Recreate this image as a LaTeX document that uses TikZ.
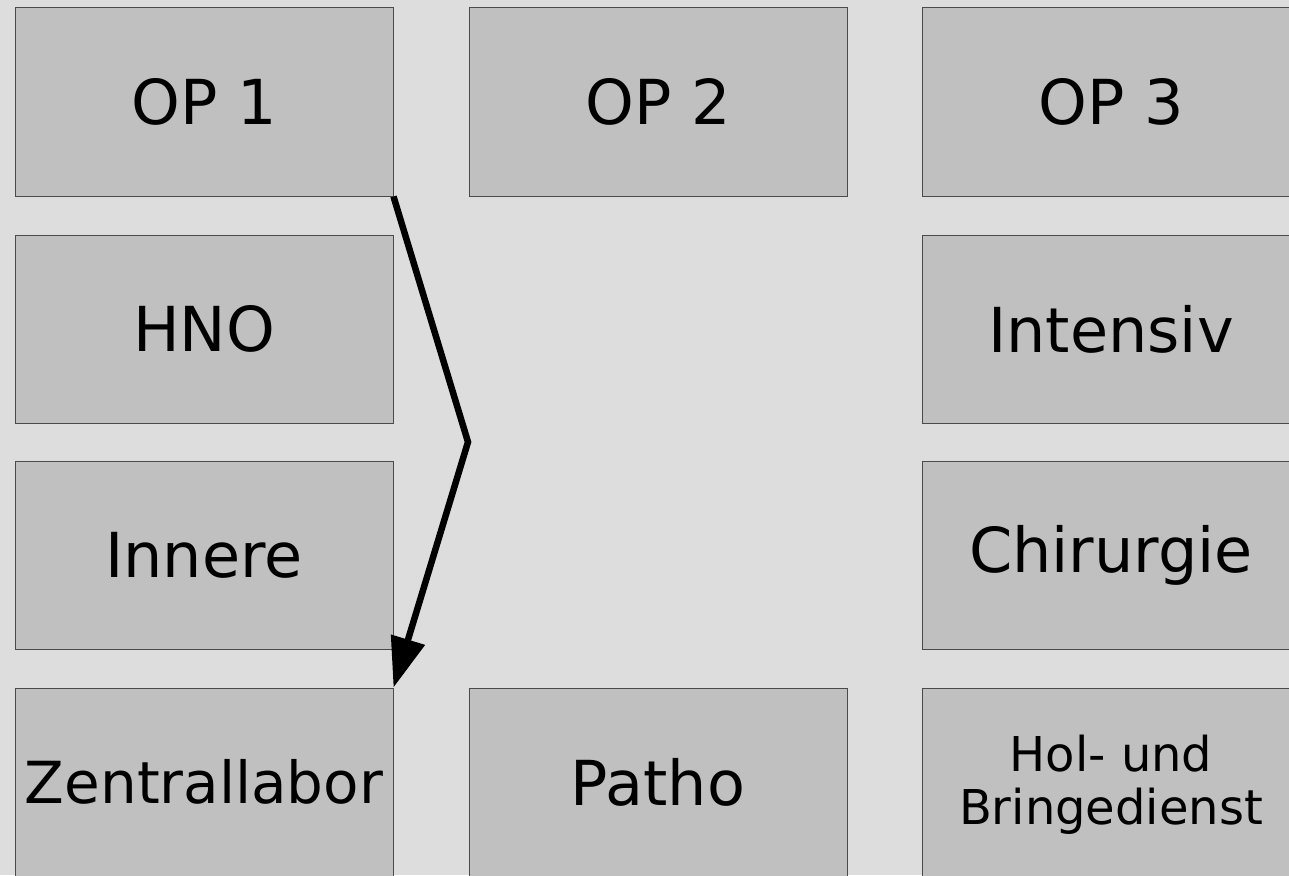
\documentclass[tikz,border=0pt]{standalone}
\usepackage{fontspec}
\setmainfont{DejaVu Sans}
\usetikzlibrary{arrows.meta}
\definecolor{bgc}{HTML}{DDDDDD}
\definecolor{boxc}{HTML}{C0C0C0}
\definecolor{edgec}{HTML}{4A4A4A}
\tikzset{
  room/.style={draw=edgec, line width=1pt, fill=boxc, rectangle, minimum width=378pt, minimum height=188pt, inner sep=0pt, font=\fontsize{62}{70}\selectfont, align=center},
  narrowroom/.style={room, font=\fontsize{58}{66}\selectfont},
  smallroom/.style={room, font=\fontsize{48}{54}\selectfont},
  flow/.style={line width=6.5pt, -{Triangle[length=50pt,width=34pt]}}
}
\begin{document}
\begin{tikzpicture}[x=1pt,y=1pt]
\fill[bgc] (0,0) rectangle (1289,-875);
\useasboundingbox (0,0) rectangle (1289,-875);
\node[room] (op1) at (204,-102) {OP 1};
\node[room] (op2) at (658,-102) {OP 2};
\node[room] (op3) at (1111,-102) {OP 3};
\node[room] (hno) at (204,-329) {HNO};
\node[room] (int) at (1111,-329) {Intensiv};
\node[room] (inn) at (204,-555.5) {Innere};
\node[room] (chi) at (1111,-555.5) {Chirurgie};
\node[narrowroom] (zen) at (204,-782) {Zentrallabor};
\node[room] (pat) at (658,-782) {Patho};
\node[smallroom] (hol) at (1111,-782) {\raisebox{-5pt}[\height][\depth]{\begin{tabular}{@{}c@{}}Hol- und\\[-1pt]Bringedienst\end{tabular}}};
\coordinate (bend) at (468,-442);
\draw[flow] (op1.south east) -- (bend) -- (zen.north east);
\end{tikzpicture}
\end{document}
